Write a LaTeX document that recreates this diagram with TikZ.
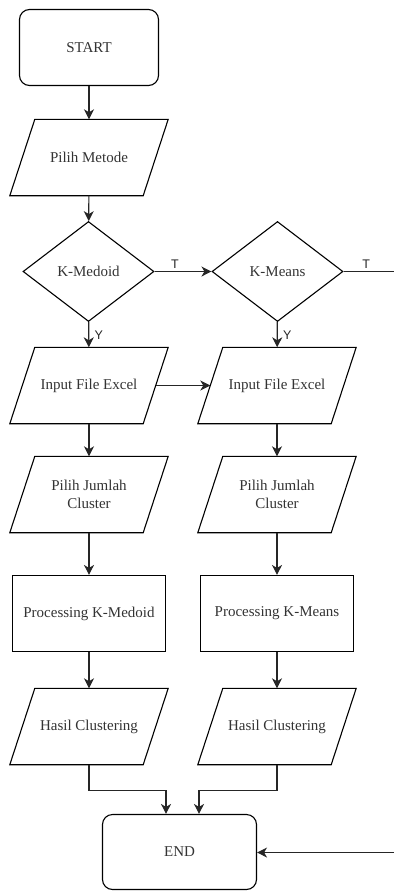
\documentclass[tikz,border=0pt]{standalone}
\usepackage{fontspec}
\setmainfont{Liberation Serif}
\newfontfamily\boxfont{Liberation Serif}
\newfontfamily\labelfont{Liberation Sans}
\usetikzlibrary{shapes.geometric,arrows.meta,calc}

\tikzset{
  flow/.style={line width=1.1pt, draw=black!85},
  arr/.style={flow, -{Stealth[length=10pt,width=10pt,inset=3pt]}},
  txt/.style={font=\boxfont\fontsize{15}{17.5}\selectfont, text=black!80, align=center},
  terminal/.style={txt, draw, line width=1.1pt, rounded corners=10pt, minimum width=139pt, minimum height=76pt},
  process/.style={txt, draw, line width=1.1pt, minimum width=153pt, minimum height=76pt},
  decision/.style={txt, draw, line width=1.1pt, diamond, inner sep=0pt, minimum width=131pt, minimum height=100pt},
  io/.style={txt, minimum width=133pt, minimum height=76pt, inner sep=0pt},
  yn/.style={font=\labelfont\fontsize{12.5}{14}\selectfont, text=black!85}
}

\begin{document}
\begin{tikzpicture}[x=1pt, y=-1pt]
  \useasboundingbox (0,0) rectangle (394,891);

  % terminals
  \node[terminal] (start) at (89,47.5) {START};
  \node[terminal, minimum width=154pt, minimum height=75pt] (end) at (179.5,852) {END};

  % input / output blocks (outlines drawn below)
  \node[io] (pm)  at (89,157.5) {Pilih Metode};
  \node[io] (if1) at (89,385.5) {Input File Excel};
  \node[io] (if2) at (277,385.5) {Input File Excel};
  \node[io] (pj1) at (89,494.5) {Pilih Jumlah\\Cluster};
  \node[io] (pj2) at (277,494.5) {Pilih Jumlah\\Cluster};
  \node[io] (hc1) at (89,726.5) {Hasil Clustering};
  \node[io] (hc2) at (277,726.5) {Hasil Clustering};

  % decisions
  \node[decision] (d1) at (88.5,271.5) {K-Medoid};
  \node[decision] (d2) at (277.5,271.5) {K-Means};

  % processes
  \node[process] (pr1) at (89,613.5) {Processing K-Medoid};
  \node[process] (pr2) at (277,613.5) {Processing K-Means};

  % parallelogram outlines
  \foreach \n in {pm,if1,if2,pj1,pj2,hc1,hc2}{
    \draw[line width=1.1pt]
      ($(\n.south west)+(-12.5,0)$) -- ($(\n.south east)+(-12.5,0)$) --
      ($(\n.north east)+(12.5,0)$) -- ($(\n.north west)+(12.5,0)$) -- cycle;
  }

  % free ends at the right margin
  \coordinate (tout) at (394,271.5);
  \coordinate (tin) at (394,852.5);

  % connectors
  \draw[arr] (start) -- (pm);
  \draw[arr] (pm) -- (d1);
  \draw[arr] (d1) -- node[yn, right, xshift=2pt, yshift=-1pt] {Y} (if1);
  \draw[arr] (d2) -- node[yn, right, xshift=2pt, yshift=-1pt] {Y} (if2);
  \draw[arr] (d1) -- node[yn, above, pos=0.36, yshift=-1pt] {T} (d2);
  \draw[flow] (d2.east) -- node[yn, above, pos=0.45, yshift=-1pt] {T} (tout);
  \draw[arr] (if1) -- (if2);
  \draw[arr] (if1) -- (pj1);
  \draw[arr] (if2) -- (pj2);
  \draw[arr] (pj1) -- (pr1);
  \draw[arr] (pj2) -- (pr2);
  \draw[arr] (pr1) -- (hc1);
  \draw[arr] (pr2) -- (hc2);
  \draw[arr] (hc1.south) -- ++(0,26) -| ([xshift=-13.5pt]end.north);
  \draw[arr] (hc2.south) -- ++(0,26) -| ([xshift=19.5pt]end.north);
  \draw[arr] (tin) -- (end.east |- tin);
\end{tikzpicture}
\end{document}
